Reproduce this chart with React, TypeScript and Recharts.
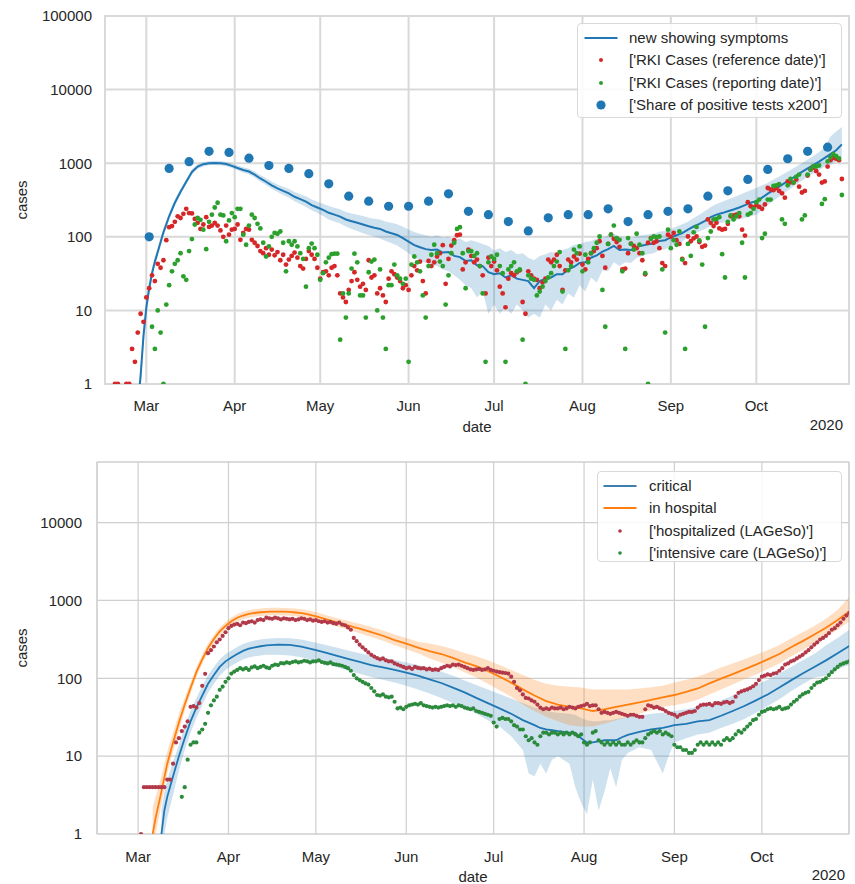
import React from 'react'
import { ComposedChart, Line, Area, Scatter, XAxis, YAxis, CartesianGrid, ReferenceArea, Label } from 'recharts'

// day 0 = 2020-03-01
const MONTH_TICKS = [0, 31, 61, 92, 122, 153, 184, 214]
const MONTH_LABELS = ['Mar', 'Apr', 'May', 'Jun', 'Jul', 'Aug', 'Sep', 'Oct']
const TOP_Y_TICKS = [1, 10, 100, 1000, 10000, 100000]
const BOTTOM_Y_TICKS = [1, 10, 100, 1000, 10000]

// ---- top panel ----
const SYM_DAYS = [-3, -2, -1, 0, 1, 2, 3, 4, 6, 8, 10, 12, 14, 16, 18, 20, 22, 24, 26, 28, 30, 32, 34, 36, 38, 40,
  42, 44, 46, 48, 50, 52, 54, 56, 58, 60, 62, 64, 66, 68, 70, 72, 74, 76, 78, 80, 82, 84, 86, 88, 90, 92, 94, 96, 98,
  100, 102, 104, 106, 108, 110, 112, 114, 116, 118, 120, 122, 124, 126, 128, 130, 132, 134, 136, 138, 140, 142, 144,
  146, 148, 150, 152, 154, 156, 158, 160, 162, 164, 166, 168, 170, 172, 174, 176, 178, 180, 182, 184, 186, 188, 190,
  192, 194, 196, 198, 200, 202, 204, 206, 208, 210, 212, 214, 216, 218, 220, 222, 224, 226, 228, 230, 232, 234, 236,
  238, 240, 242, 244]
const SYM_MID = [0.5, 1.3, 4.5, 11, 20, 32, 46, 62, 115, 190, 290, 410, 560, 760, 900, 970, 1000, 1010, 1000, 975, 920,
  860, 810, 770, 700, 620, 560, 500, 455, 420, 390, 350, 325, 300, 270, 250, 232, 212, 200, 188, 172, 163, 155, 147, 139,
  133, 128, 118, 112, 106, 96, 86, 77, 72, 68, 66, 67, 61, 62, 55, 53, 47, 48, 41, 40, 33, 31, 32, 28, 30, 27, 26, 25,
  20, 25, 27, 28, 31, 31, 36, 39, 44, 45, 52, 56, 63, 68, 75, 66, 67, 66, 73, 76, 79, 81, 88, 90, 98, 105, 112, 125,
  138, 150, 165, 185, 200, 210, 222, 235, 250, 270, 290, 305, 340, 385, 430, 480, 540, 600, 680, 760, 850, 940, 1050,
  1180, 1330, 1500, 1800]
const SYM_LOW = [0.35, 0.9, 3.3, 8.5, 16, 27, 40, 55, 102, 170, 262, 375, 515, 700, 840, 905, 935, 945, 935, 910, 860,
  800, 750, 710, 640, 565, 505, 450, 405, 370, 340, 305, 280, 255, 230, 210, 192, 172, 162, 152, 138, 128, 120, 112, 106,
  100, 95, 88, 82, 76, 68, 60, 52, 48, 44, 42, 40, 36, 34, 30, 26, 22, 20, 15, 18, 9, 12, 9, 11, 9, 12, 10, 8,
  9, 8, 12, 10, 14, 12, 17, 15, 22, 18, 28, 24, 35, 34, 45, 40, 45, 44, 52, 55, 58, 60, 66, 68, 75, 80, 86, 100,
  110, 118, 128, 140, 150, 155, 160, 165, 172, 180, 190, 200, 230, 270, 310, 350, 400, 450, 510, 580, 650, 720, 800,
  900, 950, 1050, 1200]
const SYM_HIGH = [0.7, 1.8, 6, 14, 25, 38, 54, 72, 130, 212, 320, 450, 610, 825, 970, 1040, 1070, 1080, 1070, 1045, 990,
  930, 880, 840, 770, 690, 625, 565, 515, 480, 450, 405, 380, 355, 320, 300, 282, 262, 248, 236, 218, 208, 200, 192, 182,
  176, 172, 160, 155, 148, 137, 126, 116, 110, 105, 100, 105, 98, 100, 92, 95, 85, 90, 85, 80, 75, 65, 70, 62, 66, 58,
  60, 52, 48, 55, 58, 62, 60, 66, 70, 78, 80, 85, 88, 95, 98, 105, 110, 100, 98, 96, 102, 105, 108, 110, 118, 120,
  128, 138, 148, 160, 180, 200, 225, 255, 280, 300, 320, 345, 370, 400, 430, 460, 500, 540, 600, 660, 730, 810, 900,
  1000, 1120, 1250, 1420, 1650, 2300, 2700, 3100]

// RKI cases by reference date, one value per day from day -11
const REF_START = -11
const REF_VALUES = [
  1, 1, null, null, 1, 1, 3, 2, 5, 9,
  7, 15, 20, 30, 25, 43, 38, 48, 90, 135,
  140, 160, 190, 180, 205, 240, 210, 208, 175, 155,
  128, 147, 185, 136, 142, 155, 142, 122, 100, 142,
  107, 125, 128, 147, 91, 113, 128, 125, 91, 83,
  75, 64, 60, 70, 57, 67, 56, 62, 48, 57,
  42, 49, 55, 61, 52, 40, 37, 50, 64, 57,
  50, 38, 27, 33, 34, 30, 38, 40, 30, 17,
  15, 13, 19, 25, 33, 26, 21, 23, 19, 48,
  28, 30, 17, 20, 16, 13, 27, 34, 31, 28,
  25, 20, 22, 19, 30, 40, 35, 46, 25, 17,
  47, 40, 45, 54, 60, 77, 23, 50, 76, 90,
  105, 107, 36, 45, 67, 55, 45, 49, 40, 30,
  17, 52, 40, 46, 35, 21, 17, 11, 27, 32,
  30, 33, 35, 13, 9, 34, 30, 27, 26, 20,
  24, 27, 49, 45, 49, 57, 40, 19, 35, 49,
  45, 54, 49, 59, 42, 36, 50, 60, 64, 70,
  87, 55, 38, 80, 107, 94, 85, 73, 36, 37,
  60, 81, 75, 70, 60, 48, 31, 83, 96, 83,
  87, 70, 44, 40, 107, 100, 113, 90, 80, 50,
  44, 101, 87, 95, 101, 85, 73, 76, 172, 155,
  140, 155, 130, 125, 128, 150, 190, 195, 200, 190,
  125, 104, 295, 260, 250, 270, 255, 240, 275, 460,
  440, 430, 460, 420, 390, 340, 565, 550, 545, 600,
  480, 400, 420, 680, 820, 870, 780, 700, 545, 565,
  900, 1100, 1180, 1150, 1100, 610,
]

// RKI cases by reporting date, one value per day from day 2
const REP_START = 2
const REP_VALUES = [
  6, 3, 10, 5, 1, 12, 22, 34, 43, 48,
  60, 29, 26, 64, 93, 147, 180, 170, 125, 68,
  160, 200, 250, 290, 200, 195, 87, 167, 210, 185,
  240, 240, 107, 78, 142, 200, 180, 150, 130, 83,
  54, 74, 100, 113, 110, 118, 83, 34, 87, 78,
  87, 74, 60, 50, 21, 70, 81, 70, 57, 26,
  32, 45, 52, 58, 59, 59, 4, 17, 8, 17,
  37, 59, 45, 16, 16, 8, 33, 46, 49, 10,
  36, 8, 3, 22, 22, 42, 30, 27, 23, 27,
  2, 42, 54, 45, 34, 16, 8, 40, 57, 78,
  60, 46, 40, 12, 30, 60, 83, 128, 135, 60,
  20, 64, 64, 55, 60, 40, 17, 2, 45, 54,
  50, 57, 40, 32, 2, 36, 40, 45, 34, 36,
  4, 1, 30, 27, 26, 16, 18, 21, 25, 28,
  32, 40, 46, 62, 18, 3, 35, 40, 67, 60,
  74, 34, 57, 45, 60, 70, 83, 101, 19, 6,
  80, 107, 142, 96, 91, 34, 3, 96, 80, 67,
  110, 78, 60, 32, 1, 94, 101, 99, 101, 36,
  5, 125, 70, 90, 78, 118, 49, 3, 80, 55,
  115, 136, 89, 42, 6, 96, 118, 172, 175, 185,
  58, 28, 160, 195, 172, 190, 210, 83, 28, 200,
  210, 240, 295, 320, 96, 110, 320, 320, 490, 500,
  520, 172, 150, 500, 610, 545, 650, 700, 172, 195,
  700, 820, 910, 900, 930, 280, 325, 1060, 1200, 1330,
  1250, 1160, 370,
]

// share of positive tests x200, weekly from day 1
const POS_START = 1
const POS_VALUES = [100, 850, 1050, 1450, 1400, 1170, 930, 850, 720, 525, 356, 305, 260, 260, 305, 384, 222, 200,
  161, 120, 181, 200, 200, 240, 161, 200, 222, 240, 356, 422, 601, 823, 1150, 1450, 1650]

// ---- bottom panel ----
const HOSP_DAYS = [5, 6, 8, 10, 12, 14, 16, 18, 20, 22, 24, 26, 28, 30, 32, 34, 36, 38, 40, 42, 44, 46, 48, 50, 52, 54,
  56, 58, 60, 62, 64, 66, 68, 70, 72, 74, 76, 78, 80, 84, 88, 92, 96, 100, 104, 108, 112, 116, 120, 124, 128, 132, 136,
  140, 144, 148, 152, 156, 160, 164, 168, 172, 176, 180, 184, 188, 192, 196, 200, 204, 208, 212, 216, 220, 224, 228, 232,
  236, 240, 244]
const HOSP_MID = [1, 1.6, 3.5, 8, 15, 27, 46, 75, 120, 175, 245, 320, 400, 470, 540, 600, 640, 670, 690, 705, 715, 720,
  720, 718, 712, 700, 685, 665, 640, 610, 580, 550, 525, 500, 480, 455, 435, 412, 392, 352, 310, 278, 248, 224, 205,
  183, 160, 143, 124, 105, 88, 72, 60, 51, 46, 43, 41, 38, 40, 43, 46, 49, 53, 57, 61, 67, 74, 86, 99, 113, 130, 150,
  175, 205, 250, 300, 365, 445, 560, 720]
const HOSP_LOW = [0.6, 1, 2.4, 6, 11.5, 21, 38, 64, 104, 153, 215, 282, 355, 420, 482, 535, 572, 600, 617, 630, 640, 645,
  645, 642, 636, 625, 612, 594, 570, 545, 515, 488, 465, 442, 422, 398, 380, 358, 340, 303, 265, 236, 210, 180, 160,
  140, 120, 102, 85, 70, 58, 46, 38, 32, 28, 25, 24, 24, 26, 29, 32, 35, 39, 43, 45, 48, 53, 62, 72, 83, 97, 112, 132,
  155, 190, 230, 280, 340, 420, 540]
const HOSP_HIGH = [2.2, 3, 5.5, 11.5, 20, 35, 56, 88, 140, 200, 280, 362, 450, 528, 605, 670, 715, 750, 772, 790, 800,
  805, 805, 802, 796, 785, 768, 746, 720, 690, 655, 620, 595, 568, 548, 522, 500, 475, 455, 410, 365, 330, 295, 280,
  260, 238, 212, 192, 170, 148, 128, 110, 95, 85, 80, 78, 76, 72, 72, 72, 72, 74, 77, 80, 88, 96, 105, 120, 138, 155,
  175, 200, 230, 268, 325, 390, 470, 580, 760, 1100]

const CRIT_DAYS = [8, 9, 10, 12, 14, 16, 18, 20, 22, 24, 26, 28, 30, 32, 34, 36, 38, 40, 42, 44, 48, 52, 56, 60, 64, 68,
  72, 76, 80, 84, 88, 92, 96, 100, 104, 108, 112, 116, 120, 124, 128, 132, 134, 136, 138, 140, 142, 144, 148, 150, 152,
  154, 156, 158, 160, 162, 164, 166, 168, 172, 176, 180, 182, 184, 188, 192, 196, 200, 204, 208, 212, 216, 220, 224,
  228, 232, 236, 240, 244]
const CRIT_MID = [1, 2, 3, 5.5, 10, 17, 28, 42, 60, 85, 110, 140, 165, 185, 205, 225, 240, 250, 258, 265, 270, 268, 255,
  235, 215, 195, 178, 162, 148, 138, 128, 118, 108, 97, 87, 76, 66, 56, 48, 41, 35, 29, 27, 25, 23, 22, 21.5, 21, 20,
  20, 17, 15, 15, 15.5, 16, 16, 16, 17.5, 18.8, 20.5, 22, 23, 24, 25, 26, 28, 29, 33, 38, 44, 52, 62, 76, 94, 115, 140,
  170, 210, 260]
const CRIT_LOW = [0.5, 1, 1.6, 3.2, 6.5, 12, 20, 31, 45, 65, 85, 108, 128, 145, 160, 175, 185, 192, 196, 200, 200, 196,
  186, 170, 155, 140, 126, 114, 104, 96, 88, 80, 72, 64, 56, 48, 42, 35, 29, 24, 18, 12, 6, 5.5, 8, 6, 9, 10, 8, 4, 2.5,
  1.8, 5, 2, 3.5, 7, 4, 9, 11, 13, 12, 6, 10, 15, 17, 19, 20, 23, 26, 30, 36, 44, 54, 68, 84, 102, 108, 130, 150]
const CRIT_HIGH = [2, 3.5, 5, 8.5, 14, 24, 38, 56, 79, 110, 140, 175, 205, 228, 252, 275, 292, 305, 315, 322, 330, 328,
  315, 292, 270, 248, 228, 210, 195, 183, 172, 160, 148, 135, 122, 108, 94, 82, 72, 63, 55, 48, 45, 42, 40, 38, 37, 36,
  35, 34, 31, 29, 28, 28, 29, 29, 30, 31, 32, 33, 35, 36, 37, 38, 40, 43, 46, 52, 60, 70, 82, 96, 115, 140, 170, 205,
  265, 330, 420]

// LAGeSo hospitalized, one value per day from day 1
const LHOSP_START = 1
const LHOSP_VALUES = [
  1, 4, 4, 4, 4, 4, 4, 4, 4, 5,
  5, 8, 15, 17, 21, 24, 28, 43, 44, 42,
  48, 80, 114, 210, 230, 256, 290, 315, 350, 390,
  440, 470, 490, 500, 480, 520, 510, 530, 540, 520,
  560, 570, 560, 600, 590, 580, 600, 590, 570, 590,
  580, 570, 580, 560, 570, 590, 580, 560, 570, 550,
  560, 540, 530, 540, 520, 530, 510, 500, 520, 490,
  480, 450, 420, 330, 300, 270, 250, 232, 215, 200,
  190, 182, 175, 180, 170, 165, 165, 155, 150, 145,
  140, 135, 138, 132, 140, 136, 134, 135, 130, 133,
  128, 130, 128, 135, 140, 145, 142, 150, 148, 150,
  145, 140, 135, 130, 128, 130, 132, 128, 130, 135,
  128, 125, 122, 120, 118, 117, 115, 105, 90, 75,
  70, 62, 56, 55, 52, 50, 46, 42, 40, 41,
  40, 42, 41, 41, 42, 40, 41, 43, 42, 41,
  43, 44, 45, 47, 44, 45, 45, 40, 36, 37,
  36, 35, 36, 37, 36, 35, 34, 33, 34, 34,
  33, 32, 32, 40, 45, 44, 42, 43, 41, 40,
  38, 36, 35, 34, 32, 34, 35, 36, 37, 37,
  38, 42, 45, 46, 46, 47, 45, 48, 48, 47,
  49, 50, 48, 50, 58, 65, 68, 70, 72, 75,
  79, 85, 95, 105, 108, 112, 110, 115, 117, 125,
  135, 150, 155, 165, 170, 180, 190, 200, 215, 230,
  250, 270, 290, 315, 330, 350, 380, 420, 440, 480,
  520, 580, 640, 690,
]

// LAGeSo intensive care, one value per day from day 15
const LICU_START = 15
const LICU_VALUES = [
  3, 4, 9, 14, 15, 15, 20, 22, 26, 36,
  45, 52, 58, 71, 78, 90, 100, 115, 122, 128,
  135, 130, 135, 128, 138, 142, 135, 140, 145, 138,
  135, 145, 150, 148, 157, 155, 160, 157, 162, 165,
  160, 163, 168, 165, 160, 165, 165, 170, 162, 158,
  155, 160, 152, 150, 148, 145, 140, 135, 125, 110,
  100, 95, 90, 86, 83, 75, 68, 61, 60, 62,
  58, 57, 58, 50, 41, 42, 40, 43, 45, 46,
  47, 46, 48, 45, 44, 43, 42, 43, 42, 43,
  44, 45, 44, 45, 43, 45, 44, 42, 41, 40,
  41, 38, 37, 36, 35, 34, 33, 27, 24, 30,
  31, 30, 30, 28, 25, 24, 22, 22, 18, 16,
  17, 15, 14, 18, 20, 20, 19, 20, 20, 19,
  20, 19, 20, 19, 20, 19, 18, 19, 15, 14,
  15, 20, 21, 16, 15, 14, 15, 14, 15, 14,
  15, 14, 14, 15, 14, 15, 16, 15, 15, 17,
  19, 20, 21, 20, 21, 19, 20, 19, 18, 14,
  13, 13, 12, 12, 11, 11, 12, 14, 15, 14,
  15, 14, 15, 14, 15, 14, 16, 17, 16, 17,
  19, 21, 20, 22, 24, 26, 29, 30, 34, 37,
  38, 40, 41, 40, 41, 43, 40, 41, 42, 46,
  50, 53, 58, 62, 65, 67, 75, 82, 88, 90,
  95, 100, 110, 120, 130, 140, 150, 155, 160, 165,
]

const monthName = (d: number) => MONTH_LABELS[MONTH_TICKS.indexOf(d)] ?? ''

function bandRows(days: number[], mid: number[], low: number[], high: number[]) {
  return days.map((day, i) => ({ day, v: mid[i], band: [low[i], high[i]] }))
}

function dailyRows(start: number, values: (number | null)[], step = 1) {
  return values
    .map((v, i) => ({ day: start + i * step, v }))
    .filter((r) => r.v !== null)
}

const symRows = bandRows(SYM_DAYS, SYM_MID, SYM_LOW, SYM_HIGH)
const refRows = dailyRows(REF_START, REF_VALUES)
const repRows = dailyRows(REP_START, REP_VALUES)
const posRows = dailyRows(POS_START, POS_VALUES, 7)

const hospRows = bandRows(HOSP_DAYS, HOSP_MID, HOSP_LOW, HOSP_HIGH)
const critRows = bandRows(CRIT_DAYS, CRIT_MID, CRIT_LOW, CRIT_HIGH)
const lhospRows = dailyRows(LHOSP_START, LHOSP_VALUES)
const licuRows = dailyRows(LICU_START, LICU_VALUES)

const BLUE = '#1f77b4'
const ORANGE = '#ff7f0e'
const FONT = '"Liberation Sans", Arial, sans-serif'
const INK = '#262626'
const TICK = { fontSize: 15, fill: INK }
const TEXT15 = { fontSize: 15, fill: INK }

const dot = (r: number, color: string) => (p: any) =>
  <circle cx={p.cx} cy={p.cy} r={r} fill={color} />

type Row = { kind: 'line' | 'dot'; color: string; r?: number; text: string }

function LegendBox({ left, top, width, height, rows, markX, lineW }:
  { left: number; top: number; width: number; height: number; rows: Row[]; markX: number; lineW: number }) {
  return (
    <div style={{
      position: 'absolute', left, top, width, height, boxSizing: 'border-box',
      border: '1px solid #d9d9d9', borderRadius: 4, background: 'rgba(255,255,255,0.85)',
    }}>
      {rows.map((row, i) => (
        <div key={i} style={{ position: 'absolute', left: 0, top: 3 + i * 22.3, height: 22, width: '100%' }}>
          <svg width={50} height={22} style={{ position: 'absolute', left: 0, top: 0 }}>
            {row.kind === 'line'
              ? <line x1={markX - lineW / 2} x2={markX + lineW / 2} y1={11} y2={11} stroke={row.color} strokeWidth={2} />
              : <circle cx={markX} cy={11} r={row.r} fill={row.color} />}
          </svg>
          <span style={{ position: 'absolute', left: 51, top: 2, fontSize: 15, color: INK, whiteSpace: 'nowrap' }}>
            {row.text}
          </span>
        </div>
      ))}
    </div>
  )
}

function TopChart() {
  const xMin = -14.5
  const xMax = 246.5
  return (
    <div style={{ position: 'relative', width: 855, height: 440 }}>
      <ComposedChart width={855} height={440} margin={{ top: 16, right: 6, bottom: 4, left: 0 }}>
        <CartesianGrid stroke="#d9d9d9" strokeWidth={2} />
        <XAxis type="number" dataKey="day" domain={[xMin, xMax]} allowDataOverflow ticks={MONTH_TICKS}
          tickFormatter={monthName} axisLine={false} tickLine={false} tickSize={0} tickMargin={16} height={52} tick={TICK}>
          <Label value="date" position="insideBottom" offset={4} style={TEXT15} />
          <Label value="2020" position="insideBottomRight" offset={6} style={TEXT15} />
        </XAxis>
        <YAxis scale="log" domain={[1, 100000]} allowDataOverflow ticks={TOP_Y_TICKS} width={105}
          axisLine={false} tickLine={false} tickSize={0} tickMargin={13} tick={TICK}
          label={{ value: 'cases', angle: -90, position: 'insideLeft', offset: 22, style: { ...TEXT15, textAnchor: 'middle' } }} />
        <ReferenceArea x1={xMin} x2={xMax} y1={1} y2={100000} fill="none" stroke="#d9d9d9" strokeWidth={2} ifOverflow="visible" />
        <Area data={symRows} dataKey="band" type="linear" stroke="none" fill={BLUE} fillOpacity={0.22} isAnimationActive={false} />
        <Line data={symRows} dataKey="v" type="linear" stroke={BLUE} strokeWidth={2} dot={false} activeDot={false} isAnimationActive={false} />
        <Scatter data={refRows} dataKey="v" shape={dot(2.4, '#d62728')} isAnimationActive={false} />
        <Scatter data={repRows} dataKey="v" shape={dot(2.4, '#2ca02c')} isAnimationActive={false} />
        <Scatter data={posRows} dataKey="v" shape={dot(4.6, BLUE)} isAnimationActive={false} />
      </ComposedChart>
      <LegendBox left={577} top={23} width={265} height={95} markX={23} lineW={33}
        rows={[
          { kind: 'line', color: BLUE, text: 'new showing symptoms' },
          { kind: 'dot', color: '#d62728', r: 2, text: "['RKI Cases (reference date)']" },
          { kind: 'dot', color: '#2ca02c', r: 2, text: "['RKI Cases (reporting date)']" },
          { kind: 'dot', color: BLUE, r: 4.6, text: "['Share of positive tests x200']" },
        ]} />
    </div>
  )
}

function BottomChart() {
  const xMin = -14.1
  const xMax = 243.9
  const yMax = 60000
  return (
    <div style={{ position: 'relative', width: 855, height: 444 }}>
      <ComposedChart width={855} height={444} margin={{ top: 22, right: 6, bottom: 0, left: 0 }}>
        <CartesianGrid stroke="#cfcfcf" strokeWidth={1.2} />
        <XAxis type="number" dataKey="day" domain={[xMin, xMax]} allowDataOverflow ticks={MONTH_TICKS}
          tickFormatter={monthName} axisLine={false} tickLine={false} tickSize={0} tickMargin={17} height={50} tick={TICK}>
          <Label value="date" position="insideBottom" offset={2} style={TEXT15} />
          <Label value="2020" position="insideBottomRight" offset={4} style={TEXT15} />
        </XAxis>
        <YAxis scale="log" domain={[1, yMax]} allowDataOverflow ticks={BOTTOM_Y_TICKS} width={97}
          axisLine={false} tickLine={false} tickSize={0} tickMargin={15} tick={TICK}
          label={{ value: 'cases', angle: -90, position: 'insideLeft', offset: 22, style: { ...TEXT15, textAnchor: 'middle' } }} />
        <ReferenceArea x1={xMin} x2={xMax} y1={1} y2={yMax} fill="none" stroke="#cfcfcf" strokeWidth={1.2} ifOverflow="visible" />
        <Area data={critRows} dataKey="band" type="linear" stroke="none" fill={BLUE} fillOpacity={0.22} isAnimationActive={false} />
        <Area data={hospRows} dataKey="band" type="linear" stroke="none" fill={ORANGE} fillOpacity={0.25} isAnimationActive={false} />
        <Line data={critRows} dataKey="v" type="linear" stroke={BLUE} strokeWidth={1.8} dot={false} activeDot={false} isAnimationActive={false} />
        <Line data={hospRows} dataKey="v" type="linear" stroke={ORANGE} strokeWidth={1.8} dot={false} activeDot={false} isAnimationActive={false} />
        <Scatter data={lhospRows} dataKey="v" shape={dot(2.1, '#b2394a')} isAnimationActive={false} />
        <Scatter data={licuRows} dataKey="v" shape={dot(2.1, '#2b8a3b')} isAnimationActive={false} />
      </ComposedChart>
      <LegendBox left={597} top={31} width={245} height={91} markX={22} lineW={33}
        rows={[
          { kind: 'line', color: '#3f7fb0', text: 'critical' },
          { kind: 'line', color: ORANGE, text: 'in hospital' },
          { kind: 'dot', color: '#b2394a', r: 1.8, text: "['hospitalized (LAGeSo)']" },
          { kind: 'dot', color: '#2b8a3b', r: 1.8, text: "['intensive care (LAGeSo)']" },
        ]} />
    </div>
  )
}

export default function App() {
  return (
    <div style={{ position: 'absolute', left: 0, top: 0, width: 855, height: 884, background: '#fff', fontFamily: FONT }}>
      <TopChart />
      <BottomChart />
    </div>
  )
}
